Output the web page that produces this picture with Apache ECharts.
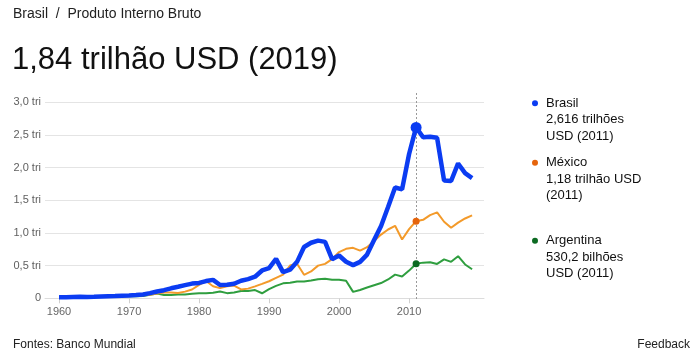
<!DOCTYPE html>
<html>
<head>
<meta charset="utf-8">
<script src="https://cdn.jsdelivr.net/npm/echarts@6/dist/echarts.min.js"></script>
<style>
html,body{margin:0;padding:0;background:#fff;}
#chart{width:700px;height:360px;}
</style>
</head>
<body>
<div id="chart"></div>
<script>
const years = [1960,1961,1962,1963,1964,1965,1966,1967,1968,1969,
  1970,1971,1972,1973,1974,1975,1976,1977,1978,1979,
  1980,1981,1982,1983,1984,1985,1986,1987,1988,1989,
  1990,1991,1992,1993,1994,1995,1996,1997,1998,1999,
  2000,2001,2002,2003,2004,2005,2006,2007,2008,2009,
  2010,2011,2012,2013,2014,2015,2016,2017,2018,2019];
// GDP, trillions USD
const brasil = [0.017,0.015,0.020,0.023,0.021,0.022,0.027,0.031,0.034,0.038,
  0.042,0.049,0.059,0.079,0.105,0.124,0.153,0.176,0.201,0.225,
  0.235,0.264,0.282,0.203,0.209,0.223,0.268,0.294,0.330,0.426,
  0.462,0.603,0.401,0.438,0.558,0.786,0.850,0.883,0.864,0.599,
  0.655,0.559,0.508,0.558,0.669,0.892,1.108,1.397,1.696,1.667,
  2.209,2.616,2.465,2.473,2.456,1.802,1.796,2.064,1.917,1.840];
const mexico = [0.013,0.014,0.015,0.017,0.020,0.022,0.024,0.027,0.029,0.032,
  0.036,0.039,0.045,0.055,0.072,0.088,0.089,0.082,0.102,0.135,
  0.205,0.264,0.185,0.156,0.184,0.195,0.135,0.148,0.182,0.221,
  0.261,0.313,0.363,0.501,0.528,0.360,0.411,0.500,0.527,0.600,
  0.708,0.757,0.772,0.729,0.782,0.878,0.975,1.053,1.110,0.900,
  1.058,1.180,1.201,1.274,1.315,1.172,1.079,1.159,1.222,1.269];
const argentina = [null,null,0.024,0.018,0.026,0.028,0.029,0.024,0.026,0.031,
  0.032,0.033,0.035,0.053,0.072,0.052,0.051,0.057,0.058,0.069,
  0.077,0.079,0.084,0.104,0.079,0.088,0.111,0.111,0.126,0.077,
  0.141,0.190,0.229,0.237,0.257,0.258,0.272,0.293,0.299,0.284,
  0.284,0.269,0.098,0.128,0.165,0.199,0.233,0.288,0.362,0.333,
  0.424,0.530,0.546,0.552,0.526,0.595,0.558,0.644,0.518,0.445];
const xTickLabels = [1960,1970,1980,1990,2000,2010];
const highlightYear = 2011;
const legendLabels = [
  ['Brasil','2,616 trilhões','USD (2011)'],
  ['México','1,18 trilhão USD','(2011)'],
  ['Argentina','530,2 bilhões','USD (2011)']
];
const subtitleText = 'Brasil  /  Produto Interno Bruto';
const titleText = '1,84 trilhão USD (2019)';
const sourceText = 'Fontes: Banco Mundial';

const colBlue = '#0b3cf2', colOrange = '#f39a2a', colGreen = '#2f9e3f';
const dotOrange = '#e5640c', dotGreen = '#0c6a22';

function pairs(vals){ return years.map((y,i)=>[y, vals[i]]); }
const hi = years.indexOf(highlightYear);

const chart = echarts.init(document.getElementById('chart'), null, {renderer:'canvas'});
const FONT = '"Liberation Sans", Arial, sans-serif';

const baseGraphic = [
  {type:'text', left: 13, top: 7, style:{text: subtitleText, fill:'#222', font: '14px ' + FONT}},
  {type:'text', left: 12, top: 45, style:{text: titleText, fill:'#111', font: '31px ' + FONT}},
  {type:'text', left: 13, top: 339, style:{text: sourceText, fill:'#222', font: '12px ' + FONT}},
  {type:'text', right: 10, top: 339, style:{text: 'Feedback', fill:'#222', font: '12px ' + FONT}},
  ...legendLabels.map((lines, i) => {
    const tops = [95, 154.5, 232.5];
    const cols = [colBlue, dotOrange, dotGreen];
    return {type:'group', left: 532, top: tops[i], children: [
      {type:'circle', shape:{cx: 3, cy: 8.3, r: 3}, style:{fill: cols[i]}},
      {type:'text', x: 14, y: 0, style:{text: lines.join('\n'), fill:'#111', font: '13px ' + FONT, lineHeight: 16.5, verticalAlign:'top'}}
    ]};
  })
];

const option = {
  animation: false,
  textStyle: {fontFamily: FONT},
  grid: {left: 45, right: 216, top: 102.3, bottom: 61.7},
  xAxis: {
    type: 'value', min: 1958, max: 2020.7,
    splitLine: {show: false},
    axisLine: {show: true, lineStyle: {color: '#dcdcdc', width: 1}},
    axisTick: {show: true, customValues: xTickLabels, length: 5, lineStyle: {color: '#d0d0d0'}},
    axisLabel: {customValues: xTickLabels, color: '#666', fontSize: 11, margin: 8, fontFamily: FONT, formatter: v => String(v)}
  },
  yAxis: {
    type: 'value', min: 0, max: 3, interval: 0.5,
    axisLine: {show: false}, axisTick: {show: false},
    splitLine: {lineStyle: {color: '#e4e4e4', width: 1}},
    axisLabel: {color: '#5f5f5f', fontSize: 11, margin: 4, fontFamily: FONT,
      formatter: v => v === 0 ? '0' : v.toFixed(1).replace('.', ',') + ' tri'}
  },
  series: [
    {name:'Argentina', type:'line', data: pairs(argentina), showSymbol:false, symbol:'none',
      lineStyle:{color: colGreen, width: 2}, itemStyle:{color: colGreen}, z: 2},
    {name:'México', type:'line', data: pairs(mexico), showSymbol:false, symbol:'none',
      lineStyle:{color: colOrange, width: 2}, itemStyle:{color: colOrange}, z: 3},
    {name:'Brasil', type:'line', data: pairs(brasil), showSymbol:false, symbol:'none',
      lineStyle:{color: colBlue, width: 4.5}, itemStyle:{color: colBlue}, z: 4},
    {name:'hl', type:'scatter', z: 6, symbol:'circle',
      data: [
        {value: [highlightYear, argentina[hi]], symbolSize: 7, itemStyle: {color: dotGreen, opacity: 1}},
        {value: [highlightYear, mexico[hi]], symbolSize: 7, itemStyle: {color: dotOrange, opacity: 1}},
        {value: [highlightYear, brasil[hi]], symbolSize: 11, itemStyle: {color: colBlue, opacity: 1}}
      ]}
  ],
  graphic: baseGraphic
};
chart.setOption(option);
const xHi = chart.convertToPixel({xAxisIndex: 0}, highlightYear);
chart.setOption({graphic: baseGraphic.concat([
  {type:'line', z: 1, silent: true, shape:{x1: Math.round(xHi)+0.5, y1: 93, x2: Math.round(xHi)+0.5, y2: 300},
    style:{stroke:'#999', lineWidth: 1, lineDash:[2,2]}}
])});
</script>
</body>
</html>
